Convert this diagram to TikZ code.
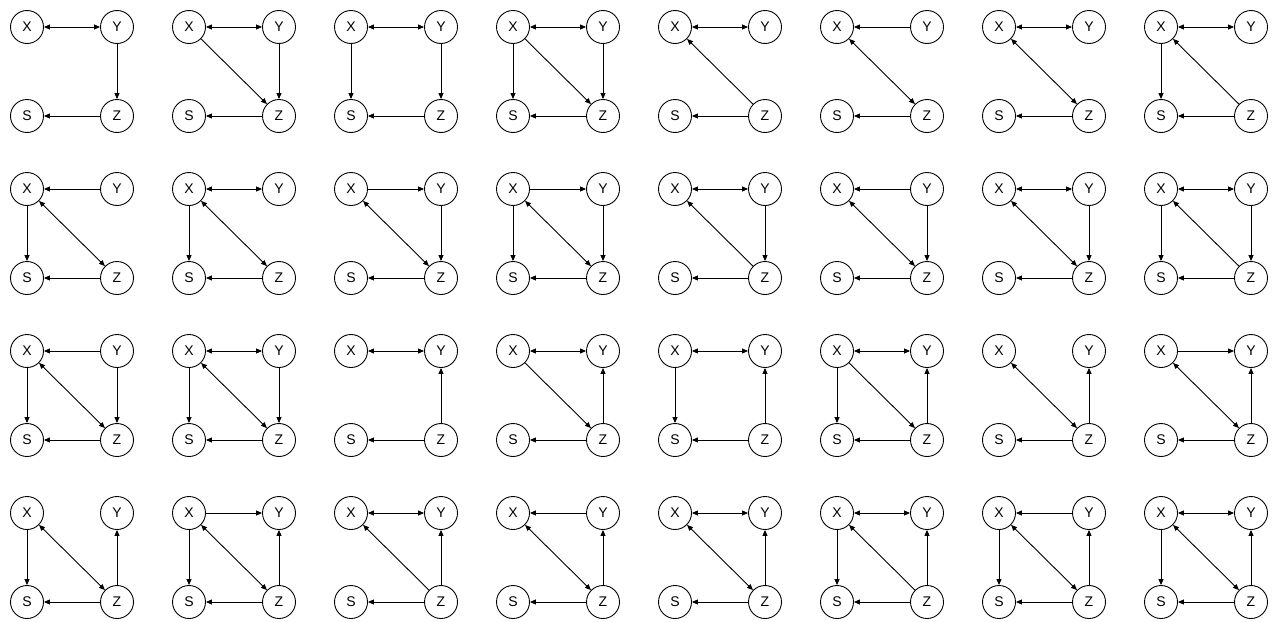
\documentclass[tikz,border=0pt]{standalone}
\usepackage{fontspec}
\setmainfont{Liberation Sans}
\usetikzlibrary{arrows.meta}
\tikzset{
  var/.style={draw, circle, line width=0.9pt, minimum size=33pt, inner sep=0pt,
              font=\fontsize{14}{16}\selectfont},
  edge/.style={line width=0.9pt},
  >={Triangle[length=6pt,width=5pt]}
}
\newcommand\dagpanel[5]{%
  \begin{scope}[shift={({27+162*#2},{-27-162*#3})}]
    \node[var] (X#1) at (0,0) {X};
    \node[var] (Y#1) at (90,0) {Y};
    \node[var] (S#1) at (0,-89) {S};
    \node[var] (Z#1) at (90,-89) {Z};
    \foreach \a/\b in {#4} \draw[edge,->] (\a#1) -- (\b#1);
    \foreach \a/\b in {#5} \draw[edge,<->] (\a#1) -- (\b#1);
  \end{scope}}
\begin{document}
\begin{tikzpicture}[x=1pt,y=1pt]
\useasboundingbox (0,0) rectangle (1274,-621);
% row 0
\dagpanel{a1}{0}{0}{Y/Z, Z/S}{X/Y}
\dagpanel{a2}{1}{0}{X/Z, Y/Z, Z/S}{X/Y}
\dagpanel{a3}{2}{0}{X/S, Y/Z, Z/S}{X/Y}
\dagpanel{a4}{3}{0}{X/S, X/Z, Y/Z, Z/S}{X/Y}
\dagpanel{a5}{4}{0}{Z/X, Z/S}{X/Y}
\dagpanel{a6}{5}{0}{Y/X, Z/S}{X/Z}
\dagpanel{a7}{6}{0}{Z/S}{X/Y, X/Z}
\dagpanel{a8}{7}{0}{X/S, Z/X, Z/S}{X/Y}
% row 1
\dagpanel{b1}{0}{1}{Y/X, X/S, Z/S}{X/Z}
\dagpanel{b2}{1}{1}{X/S, Z/S}{X/Y, X/Z}
\dagpanel{b3}{2}{1}{X/Y, Y/Z, Z/S}{X/Z}
\dagpanel{b4}{3}{1}{X/Y, X/S, Y/Z, Z/S}{X/Z}
\dagpanel{b5}{4}{1}{Z/X, Y/Z, Z/S}{X/Y}
\dagpanel{b6}{5}{1}{Y/X, Y/Z, Z/S}{X/Z}
\dagpanel{b7}{6}{1}{Y/Z, Z/S}{X/Y, X/Z}
\dagpanel{b8}{7}{1}{X/S, Z/X, Y/Z, Z/S}{X/Y}
% row 2
\dagpanel{c1}{0}{2}{Y/X, X/S, Y/Z, Z/S}{X/Z}
\dagpanel{c2}{1}{2}{X/S, Y/Z, Z/S}{X/Y, X/Z}
\dagpanel{c3}{2}{2}{Z/Y, Z/S}{X/Y}
\dagpanel{c4}{3}{2}{X/Z, Z/Y, Z/S}{X/Y}
\dagpanel{c5}{4}{2}{X/S, Z/Y, Z/S}{X/Y}
\dagpanel{c6}{5}{2}{X/S, X/Z, Z/Y, Z/S}{X/Y}
\dagpanel{c7}{6}{2}{Z/Y, Z/S}{X/Z}
\dagpanel{c8}{7}{2}{X/Y, Z/Y, Z/S}{X/Z}
% row 3
\dagpanel{d1}{0}{3}{X/S, Z/Y, Z/S}{X/Z}
\dagpanel{d2}{1}{3}{X/Y, X/S, Z/Y, Z/S}{X/Z}
\dagpanel{d3}{2}{3}{Z/X, Z/Y, Z/S}{X/Y}
\dagpanel{d4}{3}{3}{Y/X, Z/Y, Z/S}{X/Z}
\dagpanel{d5}{4}{3}{Z/Y, Z/S}{X/Y, X/Z}
\dagpanel{d6}{5}{3}{X/S, Z/X, Z/Y, Z/S}{X/Y}
\dagpanel{d7}{6}{3}{Y/X, X/S, Z/Y, Z/S}{X/Z}
\dagpanel{d8}{7}{3}{X/S, Z/Y, Z/S}{X/Y, X/Z}
\end{tikzpicture}
\end{document}
